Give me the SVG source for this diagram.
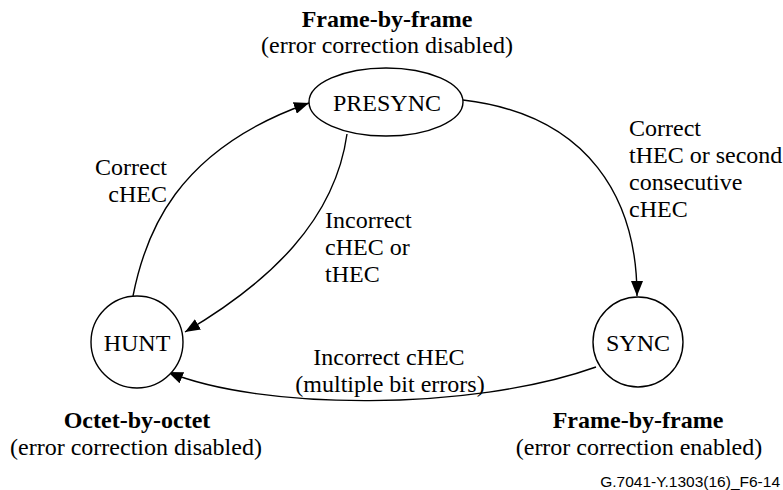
<svg xmlns="http://www.w3.org/2000/svg" width="783" height="490" viewBox="0 0 783 490">
<style>
.t{font-family:"Liberation Serif","Times New Roman",serif;font-size:24px;fill:#000}
.b{font-weight:bold}
.c{text-anchor:middle}
.r{text-anchor:end}
.n{fill:#fff;stroke:#000;stroke-width:1.4}
.e{fill:none;stroke:#000;stroke-width:1.4}
.s{font-family:"Liberation Sans",Arial,sans-serif;font-size:15.5px;fill:#000}
</style>
<defs>
<marker id="ah" markerUnits="userSpaceOnUse" markerWidth="16" markerHeight="12" refX="15" refY="6" orient="auto">
<path d="M0,0 L15,6 L0,12 Z" fill="#000"/>
</marker>
</defs>
<g id="connectors">
<path class="e" d="M133,296 C145,235 175,150 309,103" marker-end="url(#ah)"/>
<path class="e" d="M347,134 C335,220 270,282 185,332" marker-end="url(#ah)"/>
<path class="e" d="M463,100 C590,115 637,200 637,296" marker-end="url(#ah)"/>
<path class="e" d="M596,367 C470,412 260,410 168,372" marker-end="url(#ah)"/>
</g>
<g id="presync">
<ellipse class="n" cx="386" cy="102" rx="77" ry="34"/>
<text class="t c" x="387" y="111">PRESYNC</text>
</g>
<g id="hunt">
<circle class="n" cx="137" cy="342" r="46"/>
<text class="t c" x="137" y="351">HUNT</text>
</g>
<g id="sync">
<circle class="n" cx="638" cy="342" r="45"/>
<text class="t c" x="638" y="351">SYNC</text>
</g>
<g id="labels">
<text class="t b c" x="387" y="27">Frame-by-frame</text>
<text class="t c" x="387" y="53">(error correction disabled)</text>
<text class="t b c" x="137" y="428">Octet-by-octet</text>
<text class="t c" x="136" y="455">(error correction disabled)</text>
<text class="t b c" x="638" y="428">Frame-by-frame</text>
<text class="t c" x="639" y="455">(error correction enabled)</text>
<text class="t r" x="167" y="175">Correct</text>
<text class="t r" x="167" y="202">cHEC</text>
<text class="t" x="325" y="228">Incorrect</text>
<text class="t" x="325" y="255">cHEC or</text>
<text class="t" x="325" y="282">tHEC</text>
<text class="t" x="629" y="136">Correct</text>
<text class="t" x="629" y="163">tHEC or second</text>
<text class="t" x="629" y="190">consecutive</text>
<text class="t" x="629" y="217">cHEC</text>
<text class="t c" x="389" y="365">Incorrect cHEC</text>
<text class="t c" x="390" y="392">(multiple bit errors)</text>
<text class="s r" x="780" y="487">G.7041-Y.1303(16)_F6-14</text>
</g>
</svg>
